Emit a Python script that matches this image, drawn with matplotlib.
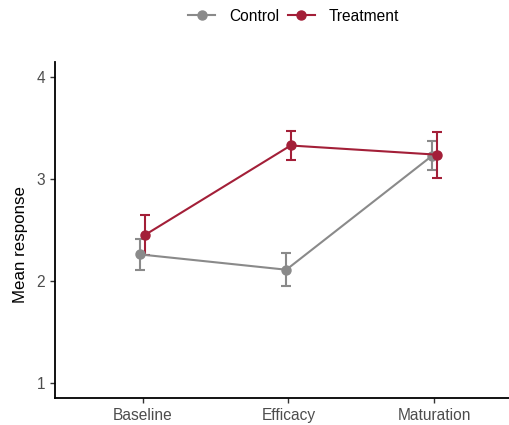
import matplotlib
matplotlib.use("Agg")
import matplotlib.pyplot as plt
import numpy as np
from matplotlib.lines import Line2D

plt.rcParams['font.family'] = ['Liberation Sans', 'DejaVu Sans']

categories = ["Baseline", "Efficacy", "Maturation"]
groups = ["Control", "Treatment"]
control_mean = [2.26, 2.11, 3.23]
control_err = [0.15, 0.16, 0.145]
treatment_mean = [2.45, 3.33, 3.24]
treatment_err = [0.20, 0.145, 0.225]
colors = {"Control": "#8A8A8A", "Treatment": "#A31F38"}
y_ticks = [1, 2, 3, 4]

fig = plt.figure(figsize=(5.09, 4.25), dpi=100)
ax = fig.add_axes([0.108, 0.0635, 0.9175, 0.7906])

x = np.arange(1, len(categories) + 1)
dodge = 0.015
series = {"Control": (control_mean, control_err, -dodge),
          "Treatment": (treatment_mean, treatment_err, dodge)}
for g in groups:
    m, e, off = series[g]
    ax.errorbar(x + off, m, yerr=e, color=colors[g], lw=1.5, elinewidth=1.5,
                capsize=3.5, capthick=1.5, marker='o', markersize=6.5, zorder=3)

ax.set_xlim(0.4, 3.6)
ax.set_ylim(0.85, 4.15)
ax.set_xticks(x)
ax.set_xticklabels(categories)
ax.set_yticks(y_ticks)
ax.set_ylabel("Mean response", fontsize=12.2, color='black')
ax.yaxis.set_label_coords(-0.058, 0.458)
for s in ['top', 'right']:
    ax.spines[s].set_visible(False)
for s in ['left', 'bottom']:
    ax.spines[s].set_linewidth(1.3)
    ax.spines[s].set_color('black')
ax.tick_params(axis='both', colors='#333333', labelcolor='#4D4D4D', labelsize=11.2,
               length=3.5, width=1)
ax.tick_params(axis='x', pad=4)

handles = [Line2D([0], [0], color=colors[g], lw=1.5, marker='o', markersize=6.5)
           for g in groups]
fig.legend(handles, groups, loc='center', bbox_to_anchor=(0.577, 0.962), ncol=2,
           frameon=False, fontsize=11.2, handlelength=1.7, handletextpad=0.9,
           columnspacing=0.6)

fig.savefig("out.png", dpi=100)
